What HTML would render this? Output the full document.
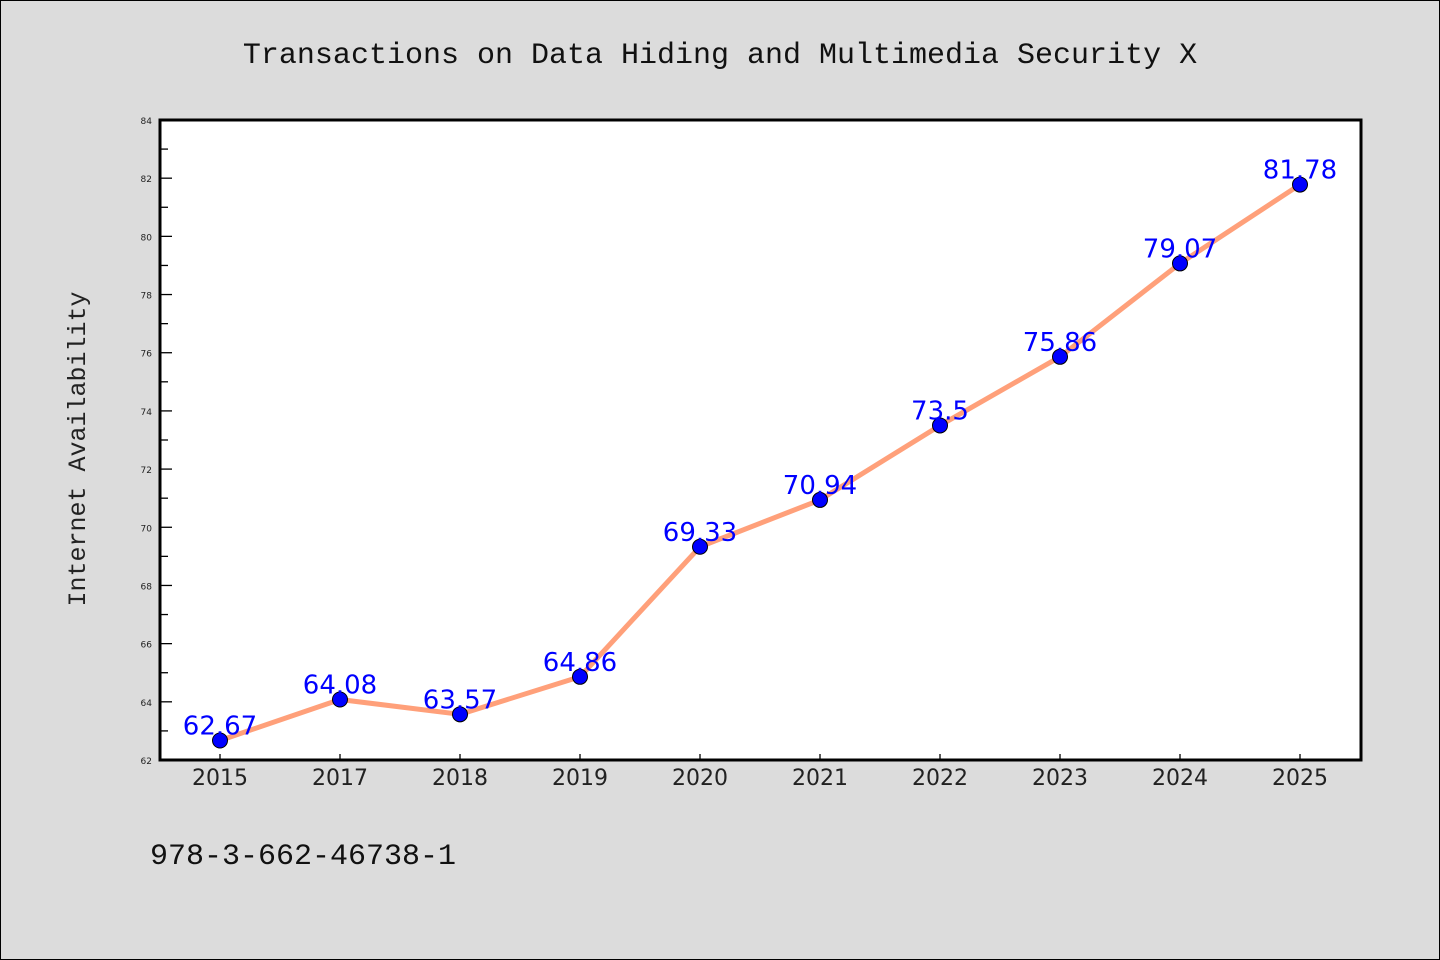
<!DOCTYPE html>
<html><head><meta charset="utf-8"><style>
body{margin:0;background:#dcdcdc}
svg{display:block}
</style></head><body>
<svg width="1440" height="960" xmlns="http://www.w3.org/2000/svg">
<rect x="0.5" y="0.5" width="1439" height="959" fill="#dcdcdc" stroke="#000"/>
<text x="720" y="63" text-anchor="middle" font-family="Liberation Mono, monospace" font-size="30" fill="#111">Transactions on Data Hiding and Multimedia Security X</text>
<text transform="translate(85,449) rotate(-90)" text-anchor="middle" font-family="Liberation Mono, monospace" font-size="25" fill="#222">Internet Availability</text>
<text x="150" y="864" font-family="Liberation Mono, monospace" font-size="30" fill="#111">978-3-662-46738-1</text>
<rect x="160" y="120" width="1201" height="640" fill="#fff"/>
<g id="axes"></g>
<g id="series"></g>
<rect x="160" y="120" width="1201" height="640" fill="none" stroke="#000" stroke-width="3"/>
</svg>
<script>
const categories=["2015","2017","2018","2019","2020","2021","2022","2023","2024","2025"];
const values=[62.67,64.08,63.57,64.86,69.33,70.94,73.5,75.86,79.07,81.78];
const valueLabels=["62.67","64.08","63.57","64.86","69.33","70.94","73.5","75.86","79.07","81.78"];
const yTicks=[62,64,66,68,70,72,74,76,78,80,82,84];
const NS="http://www.w3.org/2000/svg";
const yMin=62,yMax=84,plotTop=120,plotBot=760,plotLeft=160;
const yScale=v=>plotBot-(v-yMin)/(yMax-yMin)*(plotBot-plotTop);
const xScale=i=>220+i*120;
function mk(t,a,p){const e=document.createElementNS(NS,t);for(const k in a)e.setAttribute(k,a[k]);p.appendChild(e);return e;}
const ax=document.getElementById('axes');
yTicks.forEach((v,i)=>{
 const l=mk('line',{x1:plotLeft,x2:plotLeft+12,y1:yScale(v),y2:yScale(v),stroke:'#000','stroke-width':1.3},ax);
 
 
 if(i<yTicks.length-1){const m=mk('line',{x1:plotLeft,x2:plotLeft+8,y1:yScale(v+1),y2:yScale(v+1),stroke:'#000','stroke-width':1.3},ax);
 
 }
 const t=mk('text',{x:152,y:yScale(v)+4,'text-anchor':'end','font-family':'DejaVu Sans, sans-serif','font-size':9,fill:'#222'},ax);
 t.textContent=v;
 
 
});
categories.forEach((c,i)=>{
 const l=mk('line',{x1:xScale(i),x2:xScale(i),y1:plotBot,y2:plotBot-6,stroke:'#000','stroke-width':1.3},ax);
 
 
 const t=mk('text',{x:xScale(i),y:785,'text-anchor':'middle','font-family':'DejaVu Sans, sans-serif','font-size':22,fill:'#222'},ax);
 t.textContent=c;
 
 
});
const s=document.getElementById('series');
const pl=mk('polyline',{points:values.map((v,i)=>xScale(i)+','+yScale(v)).join(' '),fill:'none',stroke:'#ffa07a','stroke-width':5,'stroke-linejoin':'round'},s);


values.forEach((v,i)=>{
 const c=mk('circle',{cx:xScale(i),cy:yScale(v),r:7.5,fill:'#0000ff',stroke:'#000','stroke-width':1},s);
 
 
 const t=mk('text',{x:xScale(i),y:yScale(v)-6,'text-anchor':'middle','font-family':'DejaVu Sans, sans-serif','font-size':26,fill:'#0000ff'},s);
 t.textContent=valueLabels[i];
 
 
});
</script>
</body></html>
